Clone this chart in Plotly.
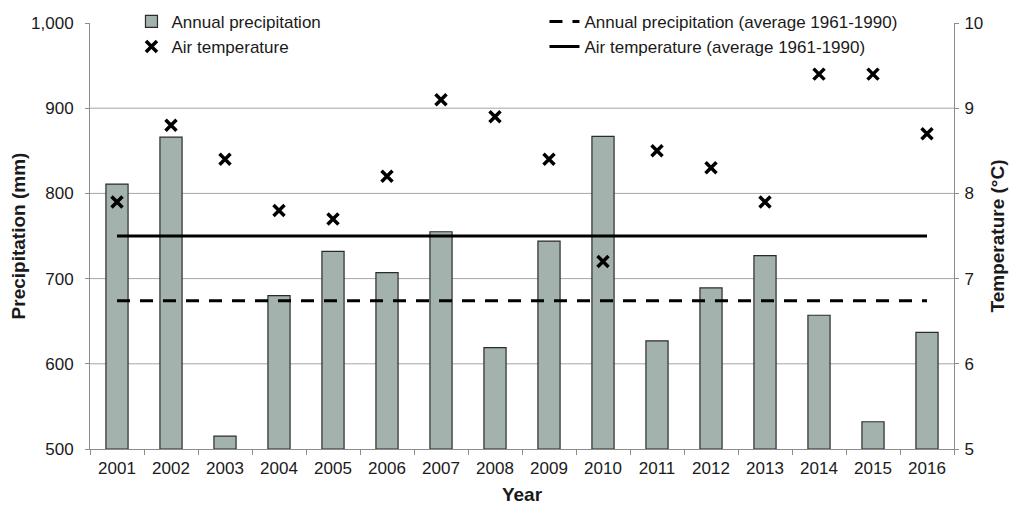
import plotly.graph_objects as go

# Annual series, 2001-2016
years = [str(y) for y in range(2001, 2017)]
precipitation_mm = [811, 866, 515, 680, 732, 707, 755, 619, 744, 867, 627, 689, 727, 657, 532, 637]
air_temp_c = [7.9, 8.8, 8.4, 7.8, 7.7, 8.2, 9.1, 8.9, 8.4, 7.2, 8.5, 8.3, 7.9, 9.4, 9.4, 8.7]

# Long-term reference means (1961-1990)
precip_avg_1961_1990 = 674
temp_avg_1961_1990 = 7.5

precip_ticks = [500, 600, 700, 800, 900, 1000]
temp_ticks = [5, 6, 7, 8, 9, 10]

FONT = "Liberation Sans, Arial, sans-serif"
GRID = "#a6a6a6"
AXIS = "#8c8c8c"

fig = go.Figure()

fig.add_trace(go.Bar(
    x=years, y=[p - precip_ticks[0] for p in precipitation_mm], base=precip_ticks[0],
    name="Annual precipitation",
    marker=dict(color="#a3b2ad", line=dict(color="#2b2b2b", width=1.2)),
    legend="legend", yaxis="y",
))

fig.add_trace(go.Scatter(
    x=years, y=air_temp_c, mode="markers", name="Air temperature",
    marker=dict(symbol="x-thin", size=11, line=dict(color="black", width=3.5), color="black"),
    legend="legend", yaxis="y2",
))

fig.add_trace(go.Scatter(
    x=[years[0], years[-1]], y=[precip_avg_1961_1990] * 2, mode="lines",
    name="Annual precipitation (average 1961-1990)",
    line=dict(color="black", width=3, dash="13px,10px"),
    legend="legend2", yaxis="y",
))

fig.add_trace(go.Scatter(
    x=[years[0], years[-1]], y=[temp_avg_1961_1990] * 2, mode="lines",
    name="Air temperature (average 1961-1990)",
    line=dict(color="black", width=3),
    legend="legend2", yaxis="y2",
))

# Horizontal gridlines on the precipitation scale (none along the top edge)
for v in precip_ticks[1:-1]:
    fig.add_shape(type="line", xref="paper", x0=0, x1=1, yref="y", y0=v, y1=v,
                  line=dict(color=GRID, width=1), layer="below")

fig.update_layout(
    width=1009, height=514,
    margin=dict(l=90, r=55, t=23, b=65, autoexpand=False),
    paper_bgcolor="white", plot_bgcolor="white",
    font=dict(family=FONT, size=17, color="#1a1a1a"),
    bargap=0.59,
    showlegend=True,
    xaxis=dict(
        type="category", range=[-0.5, len(years) - 0.5],
        tickson="boundaries", ticks="outside", ticklen=5,
        tickcolor=AXIS, showline=True, linecolor=AXIS, linewidth=1,
        showgrid=False, tickfont=dict(size=17), automargin=False,
        ticklabelstandoff=4,
        title=dict(text="<b>Year</b>", font=dict(size=19), standoff=10),
    ),
    yaxis=dict(
        range=[500, 1000], tickvals=precip_ticks, tickformat=",d",
        showgrid=False, zeroline=False, showline=True, linecolor=AXIS, linewidth=1,
        ticks="outside", ticklen=4, tickcolor=AXIS, tickfont=dict(size=17),
        ticklabelstandoff=8, automargin=False,
        title=dict(text="<b>Precipitation (mm)</b>", font=dict(size=19), standoff=0),
    ),
    yaxis2=dict(
        range=[5, 10], tickvals=temp_ticks, overlaying="y", side="right",
        showgrid=False, zeroline=False, showline=True, linecolor=AXIS, linewidth=1,
        ticks="outside", ticklen=4, tickcolor=AXIS, tickfont=dict(size=17),
        ticklabelstandoff=2, automargin=False,
        title=dict(text="<b>Temperature (°C)</b>", font=dict(size=19), standoff=8),
    ),
    legend=dict(
        x=0.048, y=1.045, xanchor="left", yanchor="top",
        bgcolor="rgba(255,255,255,0)", font=dict(size=17), tracegroupgap=0,
        itemwidth=30,
    ),
    legend2=dict(
        x=0.526, y=1.045, xanchor="left", yanchor="top",
        bgcolor="rgba(255,255,255,0)", font=dict(size=17), tracegroupgap=0,
        itemwidth=30,
    ),
)

fig.write_html("out.html")
